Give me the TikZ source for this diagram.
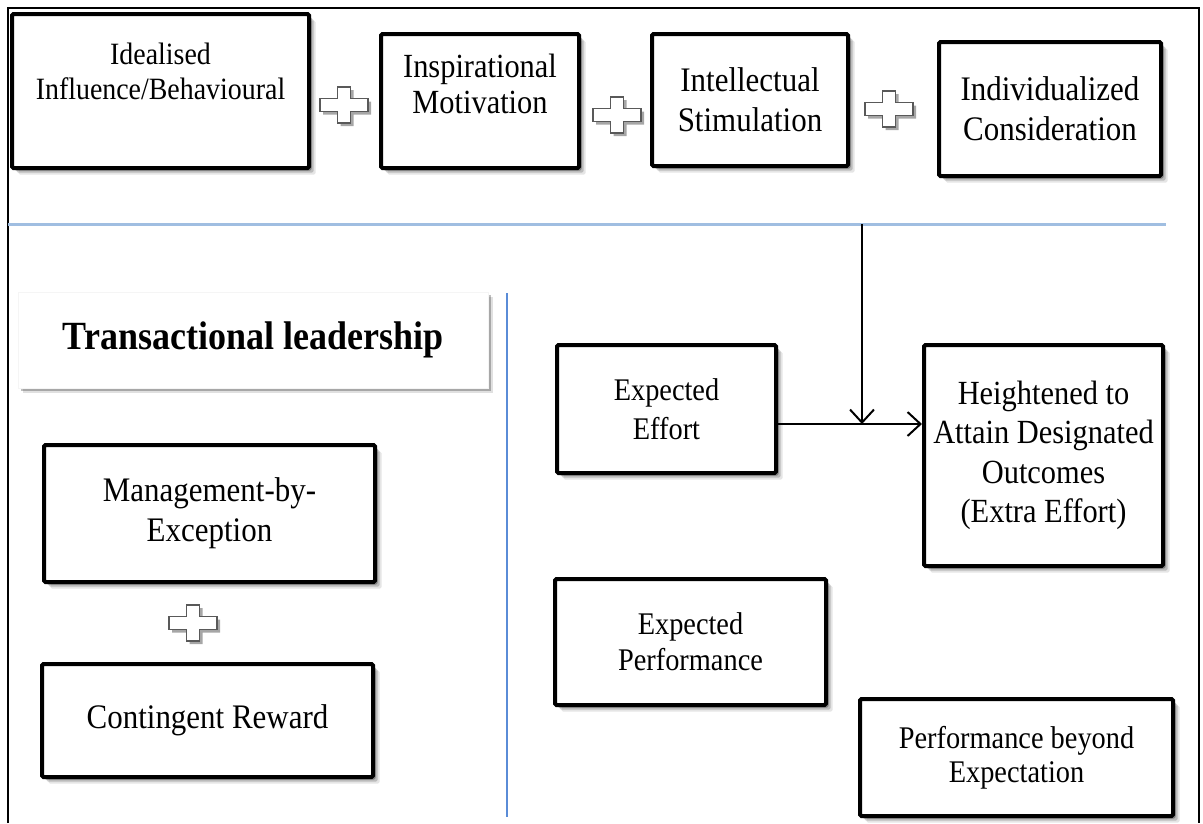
\documentclass[tikz,border=0pt]{standalone}
\usepackage{fontspec}
\setmainfont{Liberation Serif}[FakeStretch=0.9]
\usetikzlibrary{shadows,arrows.meta}
\newcommand\tsize[2]{\fontsize{#1}{#2}\selectfont}
\definecolor{sepblue}{RGB}{160,190,225}
\definecolor{vblue}{RGB}{90,140,215}
\tikzset{
  softshadow/.style={
    drop shadow={shadow xshift=2.5pt,shadow yshift=-2.5pt,opacity=.30,fill=black},
    drop shadow={shadow xshift=4.5pt,shadow yshift=-4.5pt,opacity=.18,fill=black},
    drop shadow={shadow xshift=6.5pt,shadow yshift=-6.5pt,opacity=.10,fill=black}},
  box/.style={draw=black,line width=4pt,fill=white,rounded corners=1.5pt,
    align=center,inner sep=0pt,softshadow},
  plainbox/.style={draw=black!4,line width=0.8pt,fill=white,align=center,inner sep=0pt,
    drop shadow={shadow xshift=3pt,shadow yshift=-3pt,opacity=.25,fill=black},
    drop shadow={shadow xshift=5pt,shadow yshift=-5pt,opacity=.12,fill=black}},
  conn/.style={draw=black,line width=2pt,-{Straight Barb[length=13pt,width=24pt,line width=2pt]}},
  plussign/.pic={
    \path[draw=black!65,line width=1.5pt,fill=white,
      drop shadow={shadow xshift=3pt,shadow yshift=-3pt,opacity=.35,fill=black}]
      (-24,-6.5) -- (-6.5,-6.5) -- (-6.5,-18) -- (6.5,-18) -- (6.5,-6.5) -- (24,-6.5)
      -- (24,6.5) -- (6.5,6.5) -- (6.5,18) -- (-6.5,18) -- (-6.5,6.5) -- (-24,6.5) -- cycle;
  }
}
\begin{document}
\begin{tikzpicture}[x=1pt,y=-1pt]
\useasboundingbox (0,0) rectangle (1203,823);
\fill[white] (0,0) rectangle (1203,823);
% frame
\draw[line width=1.5pt] (8,823) -- (8,8) -- (1199,8) -- (1199,823);

% separators
\coordinate (hl) at (8,224);
\coordinate (hr) at (1166,224);
\draw[sepblue,line width=3pt] (hl) -- (hr);
\coordinate (vt) at (507,293);
\coordinate (vb) at (507,817);
\draw[vblue,line width=1.3pt] (vt) -- (vb);

% top row
\node[box,minimum width=297pt,minimum height=154pt,text depth=40pt,font=\tsize{31}{35}]
  (b1) at (160.5,91) {Idealised\\Influence/Behavioural};
\node[box,minimum width=198pt,minimum height=134pt,text depth=34pt,font=\tsize{33.8}{36}]
  (b2) at (480,101) {Inspirational\\Motivation};
\node[box,minimum width=196pt,minimum height=132pt,font=\tsize{34.4}{40}]
  (b3) at (750,100) {Intellectual\\Stimulation};
\node[box,minimum width=222pt,minimum height=134pt,font=\tsize{34.4}{40}]
  (b4) at (1050,109) {Individualized\\Consideration};

\pic at (344,105) {plussign};
\pic at (617,115) {plussign};
\pic at (889,109) {plussign};

% transactional
\node[plainbox,minimum width=470pt,minimum height=96pt,font=\bfseries\tsize{40}{40}]
  (tl) at (253,340) {Transactional leadership};
\node[box,minimum width=331pt,minimum height=137pt,font=\tsize{34.4}{40}]
  (mbe) at (209.5,513.5) {Management-by-\\Exception};
\pic at (193,623) {plussign};
\node[box,minimum width=331pt,minimum height=113pt,font=\tsize{34.4}{40}]
  (cr) at (207.5,720.5) {Contingent Reward};

% right part
\node[box,minimum width=219pt,minimum height=128pt,font=\tsize{31.5}{39}]
  (ee) at (666.5,409) {Expected\\Effort};
\node[box,minimum width=239pt,minimum height=221pt,font=\tsize{33.8}{39.5}]
  (ha) at (1043.5,455.5) {Heightened to\\Attain Designated\\Outcomes\\(Extra Effort)};
\node[box,minimum width=271pt,minimum height=126pt,font=\tsize{31.5}{36}]
  (ep) at (690.5,642) {Expected\\Performance};
\node[box,minimum width=313pt,minimum height=117pt,font=\tsize{31.5}{34}]
  (pb) at (1016.5,757.5) {Performance beyond\\Expectation};

% connectors
\coordinate (ay) at (0,424);
\coordinate (vtop) at (862,224);
\draw[conn] (ee.east |- ay) -- (ha.west |- ay);
\draw[conn] (vtop) -- (vtop |- ay);
\end{tikzpicture}
\end{document}
